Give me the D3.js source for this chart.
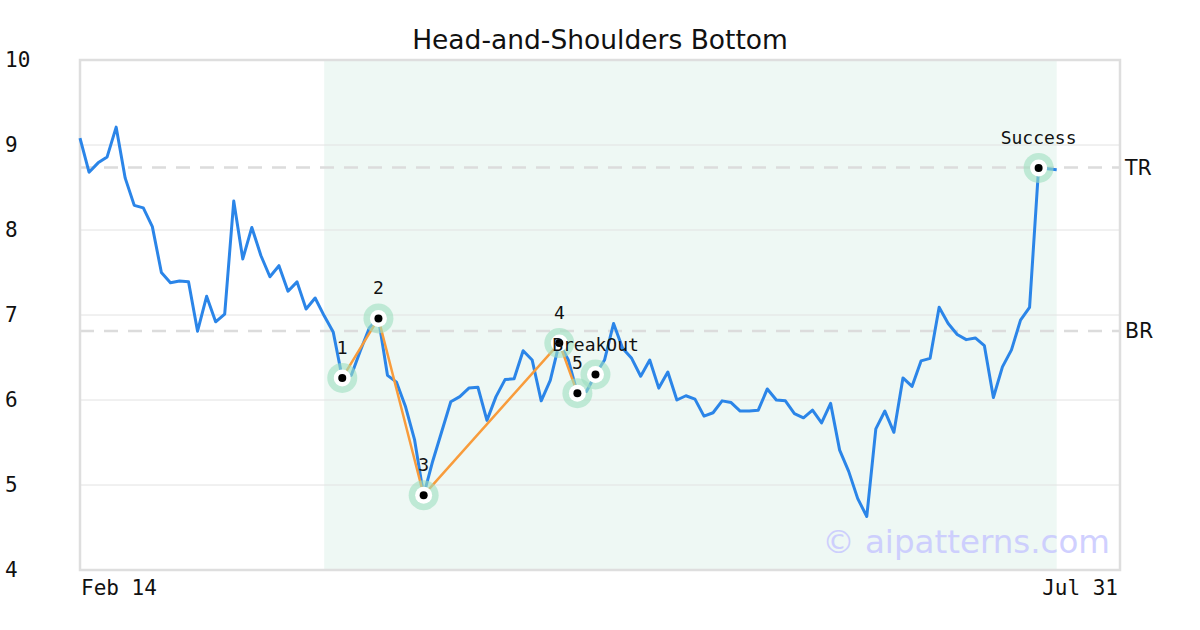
<!DOCTYPE html>
<html><head><meta charset="utf-8">
<script src="https://cdn.jsdelivr.net/npm/d3@7"></script>
<style>body{margin:0;background:#fff}</style>
</head><body>
<svg id="c" width="1200" height="630"></svg>
<script>
const prices = [9.08,8.68,8.79,8.86,9.21,8.61,8.29,8.26,8.04,7.50,7.38,7.40,7.39,6.81,7.22,6.92,7.01,8.34,7.66,8.03,7.70,7.45,7.58,7.28,7.39,7.07,7.20,6.99,6.80,6.26,6.29,6.58,6.85,6.96,6.29,6.21,5.92,5.53,4.88,5.28,5.63,5.98,6.04,6.14,6.15,5.76,6.04,6.24,6.25,6.58,6.47,5.99,6.23,6.67,6.47,6.08,6.10,6.30,6.47,6.90,6.61,6.49,6.28,6.47,6.14,6.33,6.00,6.05,6.01,5.81,5.85,5.99,5.97,5.87,5.87,5.88,6.13,6.00,5.99,5.84,5.79,5.88,5.73,5.96,5.41,5.16,4.84,4.63,5.66,5.87,5.62,6.26,6.16,6.46,6.49,7.09,6.90,6.77,6.71,6.73,6.64,6.03,6.39,6.59,6.94,7.09,8.73,8.72,8.71];
const xTickLabels = ["Feb 14","Jul 31"];
const xTickIndex = [0,115];
const yTicks = [4,5,6,7,8,9,10];
const patternIdx = [29,33,38,53,55];
const patternLabels = ["1","2","3","4","5"];
const breakoutIdx = 57;
const successIdx = 106;
const levelNames = ["TR","BR"];
const levelValues = [8.735,6.812];
const shadeRange = [27,108];

const svg = d3.select("#c");
const L=80,R=1120,T=60,B=570;
const x = d3.scaleLinear().domain([0,115]).range([L,R]);
const y = d3.scaleLinear().domain([4,10]).range([B,T]);

svg.append("text").attr("x",600).attr("y",49).attr("text-anchor","middle")
  .attr("font-family","DejaVu Sans").attr("font-size",26.5).attr("fill","#111").text("Head-and-Shoulders Bottom");

// shade
svg.append("rect").attr("x",x(shadeRange[0])).attr("y",T).attr("width",x(shadeRange[1])-x(shadeRange[0])).attr("height",B-T).attr("fill","#eef8f4");

// grid
svg.append("g").selectAll("line").data(yTicks.slice(1,-1)).join("line")
  .attr("x1",L).attr("x2",R).attr("y1",d=>y(d)).attr("y2",d=>y(d)).attr("stroke","#e2e2e2").attr("stroke-width",1);

// y tick labels
svg.append("g").selectAll("text").data(yTicks).join("text")
  .attr("x",5).attr("y",d=>y(d)+7).attr("font-family","DejaVu Sans Mono").attr("font-size",21).attr("fill","#111").text(d=>d);

// x tick labels
svg.append("g").selectAll("text").data(xTickIndex).join("text")
  .attr("x",(d,i)=>i===0?x(d)+1:x(d)-2).attr("y",595).attr("text-anchor",(d,i)=>i===0?"start":"end")
  .attr("font-family","DejaVu Sans Mono").attr("font-size",21).attr("fill","#111").text((d,i)=>xTickLabels[i]);

// levels
levelValues.forEach((v,i)=>{
  svg.append("line").attr("x1",L).attr("x2",R).attr("y1",y(v)).attr("y2",y(v))
    .attr("stroke","#dcdcdc").attr("stroke-width",2.5).attr("stroke-dasharray","14,10");
  svg.append("text").attr("x",1125).attr("y",y(v)+7).attr("font-family","DejaVu Sans").attr("font-size",20.5).attr("fill","#111").text(levelNames[i]);
});

// watermark
svg.append("text").attr("x",1110).attr("y",553).attr("text-anchor","end").attr("font-family","DejaVu Sans")
  .attr("font-size",32.5).attr("fill","#c8c8ff").attr("opacity",0.85).text("© aipatterns.com");

// border
svg.append("rect").attr("x",L).attr("y",T).attr("width",R-L).attr("height",B-T).attr("fill","none").attr("stroke","#dedede").attr("stroke-width",2.5);

// price line
const line = d3.line().x((d,i)=>x(i)).y(d=>y(d));
svg.append("path").datum(prices).attr("d",line).attr("fill","none").attr("stroke","#2b85e8").attr("stroke-width",3).attr("stroke-linejoin","round");

// pattern lines
const pline = d3.line().x(i=>x(i)).y(i=>y(prices[i]));
svg.append("path").datum(patternIdx).attr("d",pline).attr("fill","none").attr("stroke","#f89c3c").attr("stroke-width",2.5);

function marker(i,label,dy){
  const g = svg.append("g");
  g.append("circle").attr("cx",x(i)).attr("cy",y(prices[i])).attr("r",15).attr("fill","#9fdfbf").attr("opacity",0.6);
  g.append("circle").attr("cx",x(i)).attr("cy",y(prices[i])).attr("r",8.5).attr("fill","#fff");
  g.append("circle").attr("cx",x(i)).attr("cy",y(prices[i])).attr("r",4).attr("fill","#000");
  g.append("text").attr("x",x(i)).attr("y",y(prices[i])+dy).attr("text-anchor","middle")
    .attr("font-family","DejaVu Sans Mono").attr("font-size",18).attr("fill","#111").text(label);
}
patternIdx.forEach((p,k)=>marker(p,patternLabels[k],-24));
marker(breakoutIdx,"BreakOut",-24);
marker(successIdx,"Success",-24);
</script>
</body></html>
